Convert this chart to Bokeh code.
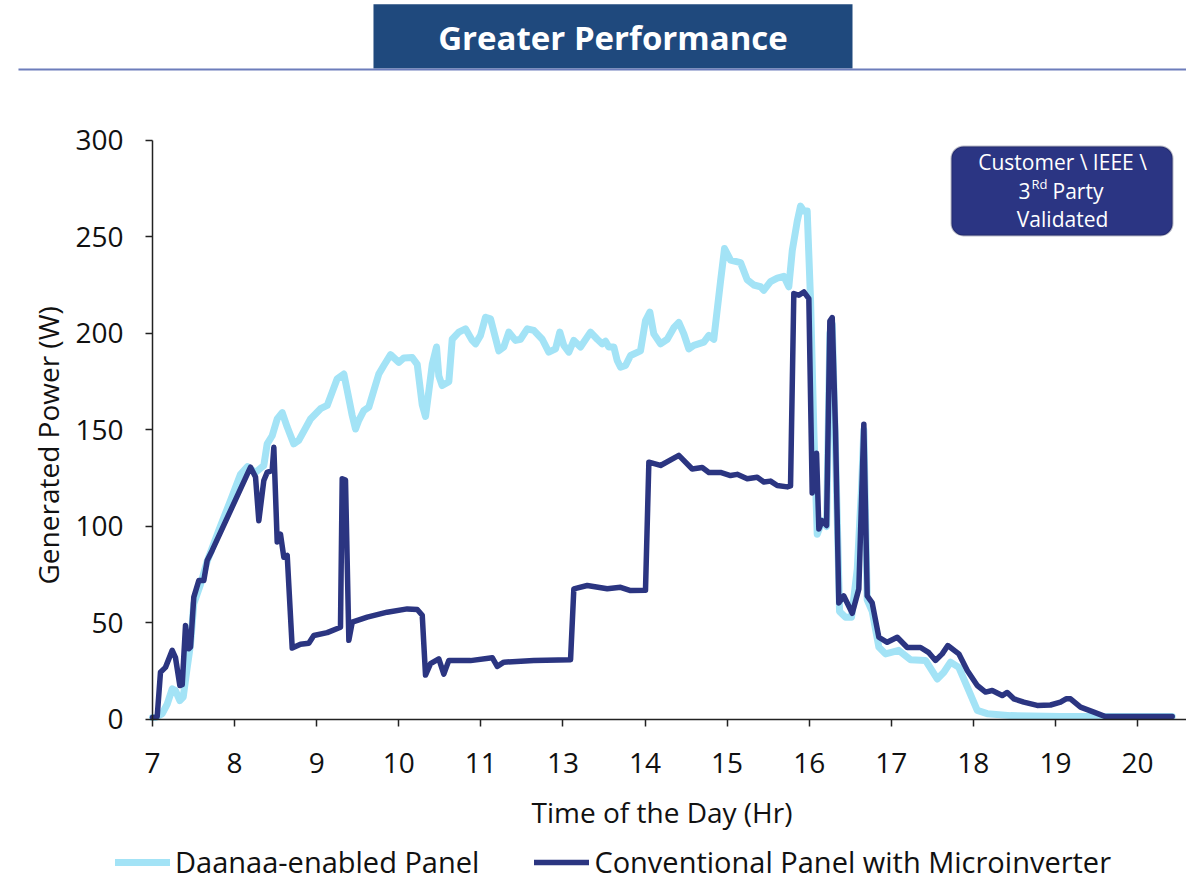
import math
from bokeh.plotting import figure
from bokeh.models import Range1d, FixedTicker, Legend, LegendItem, BoxAnnotation, Label
from bokeh.core.properties import value
from bokeh.embed import file_html
from bokeh.resources import INLINE

FONT = "Open Sans"
LIGHT = "#a3e3f6"
DARK = "#2b3581"
INK = "#111111"

# ---- data (x = position on the time axis, y = generated power in W) ----
x_tick_pos = [7, 8, 9, 10, 11, 12, 13, 14, 15, 16, 17, 18, 19]
x_tick_labels = ["7", "8", "9", "10", "11", "13", "14", "15", "16", "17", "18", "19", "20"]
y_ticks = [0, 50, 100, 150, 200, 250, 300]

daanaa_x = [7.000, 7.037, 7.118, 7.179, 7.240, 7.280, 7.333, 7.374, 7.423, 7.463, 7.503, 7.585,
            7.666, 7.808, 7.950, 8.072, 8.157, 8.255, 8.356, 8.397, 8.458, 8.519, 8.580, 8.641,
            8.721, 8.782, 8.925, 9.047, 9.128, 9.189, 9.250, 9.331, 9.372, 9.433, 9.473, 9.513,
            9.574, 9.635, 9.696, 9.757, 9.818, 9.900, 10.001, 10.062, 10.164, 10.225, 10.286,
            10.326, 10.366, 10.408, 10.460, 10.488, 10.529, 10.610, 10.651, 10.732, 10.813,
            10.895, 10.935, 10.996, 11.057, 11.118, 11.219, 11.280, 11.341, 11.422, 11.483,
            11.565, 11.645, 11.748, 11.828, 11.910, 11.962, 12.011, 12.072, 12.133, 12.214,
            12.336, 12.418, 12.479, 12.519, 12.559, 12.620, 12.661, 12.702, 12.763, 12.824,
            12.945, 13.006, 13.059, 13.107, 13.189, 13.271, 13.351, 13.412, 13.473, 13.534,
            13.595, 13.717, 13.778, 13.838, 13.920, 13.969, 14.042, 14.164, 14.245, 14.326,
            14.407, 14.448, 14.529, 14.611, 14.691, 14.752, 14.794, 14.854, 14.895, 14.935,
            14.976, 15.017, 15.057, 15.098, 15.159, 15.212, 15.252, 15.281, 15.321, 15.370,
            15.443, 15.516, 15.586, 15.638, 15.666, 15.707, 15.768, 15.849, 15.930, 16.092,
            16.235, 16.418, 16.560, 16.641, 16.722, 16.823, 16.945, 17.048, 17.169, 17.453,
            18.062, 18.509, 19.423]
daanaa_w = [1, 1, 3, 8, 15.9, 15, 9.8, 11.6, 27, 39, 60, 70,
            82, 98, 113.5, 127, 131, 128, 131.6, 142.8, 147, 155.7, 159, 151.5,
            142.8, 144.6, 155.7, 161, 162.7, 169.6, 176.5, 179, 170.5, 157.5, 150.5, 155,
            160, 161.8, 170.5, 179, 183.4, 189, 185, 187.3, 187.5, 184, 163,
            157, 170, 184, 193, 178, 173, 175, 197, 200.7, 202.4,
            196.4, 194.6, 199, 208.4, 207.6, 191, 193, 200.7, 196.4, 197,
            202.4, 201.6, 197, 190.3, 192, 200.7, 193.8, 190.3, 196.4, 193,
            200.7, 197, 194.6, 196, 193, 193, 186, 182.5, 183.4, 188.6,
            191, 206.7, 211, 199.8, 194.6, 197, 203, 205.7, 199.8, 192,
            193.8, 195.5, 199, 197, 227, 244, 238, 236.7, 227.8, 225.1,
            224.2, 222.4, 226.9, 228.7, 229.6, 224.2, 242.9, 258, 266, 263.4,
            263.4, 217, 149.5, 96, 103, 100, 200, 205, 140, 56,
            53, 53, 78, 120, 150, 62, 56, 37.5, 34, 35.8,
            31, 30.6, 21, 24.5, 29.7, 27, 15, 4.7, 3, 2,
            1.5, 1.5, 1.5]

conv_x = [7.000, 7.057, 7.097, 7.158, 7.240, 7.280, 7.333, 7.362, 7.402, 7.442, 7.463, 7.503,
          7.564, 7.625, 7.666, 7.727, 8.194, 8.255, 8.295, 8.356, 8.397, 8.458, 8.478, 8.519,
          8.559, 8.600, 8.641, 8.702, 8.803, 8.904, 8.965, 9.128, 9.290, 9.311, 9.351, 9.392,
          9.433, 9.616, 9.859, 10.103, 10.225, 10.286, 10.326, 10.387, 10.488, 10.549, 10.610,
          10.874, 11.139, 11.200, 11.280, 11.645, 12.093, 12.133, 12.296, 12.540, 12.702,
          12.824, 13.006, 13.047, 13.189, 13.412, 13.575, 13.697, 13.778, 13.920, 14.042,
          14.123, 14.245, 14.367, 14.448, 14.529, 14.611, 14.733, 14.773, 14.813, 14.874,
          14.935, 14.996, 15.037, 15.090, 15.118, 15.159, 15.212, 15.252, 15.281, 15.321,
          15.361, 15.422, 15.525, 15.605, 15.666, 15.707, 15.768, 15.849, 15.951, 16.073,
          16.195, 16.357, 16.458, 16.539, 16.621, 16.689, 16.823, 16.926, 17.048, 17.149,
          17.230, 17.352, 17.413, 17.493, 17.615, 17.778, 17.940, 18.062, 18.135, 18.184,
          18.306, 18.468, 18.610, 19.423]
conv_w = [1, 1.5, 24.5, 27, 35.8, 32, 17.6, 18, 48.7, 36.6, 37.5, 63.4,
          72, 72, 82.4, 87.6, 130.7, 125.6, 103, 123.8, 128, 129, 141, 92,
          96, 84, 85, 37, 39, 39.5, 43.5, 45, 47.8, 124.7, 124, 41,
          50.4, 53, 55.6, 57.3, 57, 54, 23, 28.9, 31.4, 23.5, 30.6,
          30.5, 32, 27.5, 29.7, 30.6, 31, 67.7, 69.4, 67.7, 68.5,
          66.8, 67, 133.3, 131.6, 136.8, 129.8, 130.5, 128, 128, 126.4,
          127, 124.7, 125.5, 123, 123.5, 121.2, 120.5, 121, 220.7, 219.8,
          221.5, 218, 117.4, 137.9, 98.7, 103, 100.5, 206.4, 208.2, 149.5,
          60.4, 64, 55, 67.6, 153, 64, 60.4, 42.6, 40, 42.6,
          37.3, 37.3, 34.6, 30.6, 34, 38.3, 34, 25.4, 17.6, 14.2,
          15, 12.4, 14, 10.7, 9, 7.3, 7.5, 9, 10.8, 10.7,
          6.4, 3.8, 1.5, 1.5]

# ---- one figure whose frame covers the whole canvas; axes are pinned inside it ----
p = figure(width=1186, height=881, x_range=Range1d(5.148, 19.597), y_range=Range1d(-83.94, 372.5),
           toolbar_location=None, output_backend="svg", min_border=0,
           outline_line_color=None)
p.grid.visible = False

# header banner + rule
p.quad(left=[9.692], right=[15.528], top=[370.5], bottom=[337.3],
       fill_color="#1f497d", line_color=None)
p.text(x=[12.61], y=[353.4], text=["Greater Performance"], text_font=value(FONT),
       text_font_style="bold", text_font_size="33px", text_color="white",
       text_align="center", text_baseline="middle")
p.segment(x0=[5.367], y0=[336.8], x1=[19.597], y1=[336.8], line_color="#6d7dbb", line_width=2)

r_light = p.line(daanaa_x, daanaa_w, line_color=LIGHT, line_width=7, line_join="round",
                 line_cap="round")
r_dark = p.line(conv_x, conv_w, line_color=DARK, line_width=5.5, line_join="round",
                line_cap="round")

for ax in (p.xaxis[0], p.yaxis[0]):
    ax.axis_line_color = "#222222"
    ax.axis_line_width = 1.5
    ax.major_tick_line_color = "#222222"
    ax.major_tick_line_width = 1.5
    ax.major_tick_in = 0
    ax.major_tick_out = 7
    ax.minor_tick_line_color = None
    ax.major_label_text_font = FONT
    ax.major_label_text_font_size = "28px"
    ax.major_label_text_color = INK

p.xaxis.fixed_location = 0
p.xaxis.bounds = (7, 19.597)
p.xaxis.ticker = FixedTicker(ticks=x_tick_pos)
p.xaxis.major_label_overrides = {t: l for t, l in zip(x_tick_pos, x_tick_labels)}
p.xaxis.major_label_standoff = 27

p.yaxis.fixed_location = 7
p.yaxis.bounds = (0, 300)
p.yaxis.ticker = FixedTicker(ticks=y_ticks)
p.yaxis.major_label_standoff = 22

# axis titles
p.text(x=[13.207], y=[-47.7], text=["Time of the Day (Hr)"], text_font=value(FONT),
       text_font_size="28px", text_color=INK, text_align="center", text_baseline="middle")
p.text(x=[5.721], y=[142], text=["Generated Power (W)"], angle=math.pi / 2,
       text_font=value(FONT), text_font_size="28px", text_color=INK,
       text_align="center", text_baseline="middle")

legend = Legend(items=[LegendItem(label="Daanaa-enabled Panel", renderers=[r_light]),
                       LegendItem(label="Conventional Panel with Microinverter", renderers=[r_dark])],
                orientation="horizontal", location=(115, 0),
                label_text_font=FONT, label_text_font_size="29px", label_text_color=INK,
                glyph_width=55, glyph_height=30, label_height=30, label_standoff=5, spacing=55,
                padding=0, margin=0, border_line_color=None, background_fill_alpha=0)
p.add_layout(legend)

# validation badge
p.add_layout(BoxAnnotation(left=16.734, right=19.427, top=296.9, bottom=250.8,
                           fill_color="#2b3583", fill_alpha=1, line_color="#161c47",
                           line_width=2, border_radius=12))
for txt, xx, yy, align in [("Customer \\ IEEE \\", 18.087, 288.6, "center"),
                           ("3", 17.697, 273.6, "right"),
                           ("Party", 17.965, 273.6, "left"),
                           ("Validated", 18.087, 259.1, "center")]:
    p.add_layout(Label(x=xx, y=yy, text=txt, text_align=align, text_baseline="middle",
                       text_font=FONT, text_font_size="21px", text_color="white"))
p.add_layout(Label(x=17.709, y=277.6, text="Rd", text_align="left", text_baseline="middle",
                   text_font=FONT, text_font_size="13px", text_color="white"))

open("out.html", "w").write(file_html(p, INLINE))
